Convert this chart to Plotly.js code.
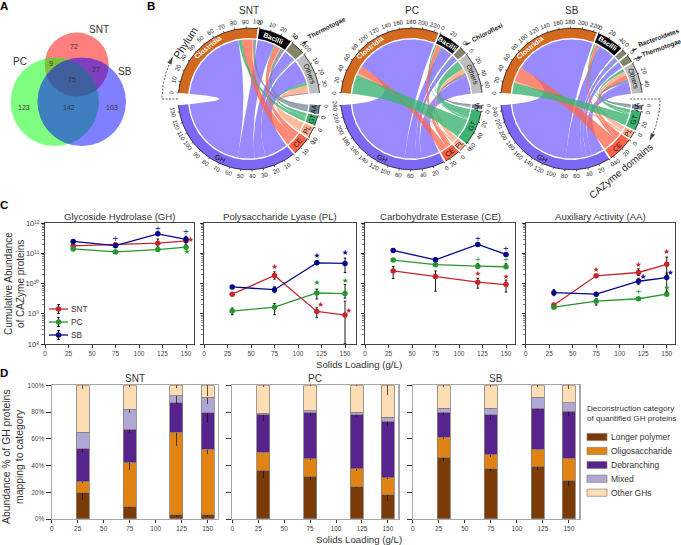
<!DOCTYPE html>
<html><head><meta charset="utf-8">
<script src="https://cdn.plot.ly/plotly-3.0.1.min.js"></script>
<style>html,body{margin:0;padding:0;background:#fff}</style></head>
<body><div id="chart" style="width:681px;height:545px"></div>
<script>
const W=681,H=545,FONT='Liberation Sans, Arial, sans-serif',INK='#333';
// ---------- Panel A: Venn counts
const vennLabels=['SNT','PC','SB'];
const vennCounts=['72','9','27','75','123','142','103'];
// ---------- Panel B: chord data (rows = phyla, columns = domains)
const domains=['GH','CE','PL','GT','AA'];
const domainsClockwise=['AA','GT','PL','CE','GH'];
const sntPhyla=['Clostridia','Bacilli','Thermotogae','Others'];
const sntFlows=[[81,11,1,4,3],[18,6,1,1,4],[12,0,0,1,0],[25,0,8,3,1]];
const sntSourceOrder=['GH','GT','CE','PL','AA'];
const pcPhyla=['Clostridia','Bacilli','Chloroflexi','Others'];
const pcFlows=[[168,16,4,40,0],[24,9,1,3,2],[11,0,0,2,0],[38,3,8,18,5]];
const pcSourceOrder=['GT','PL','CE','AA','GH'];
const sbPhyla=['Clostridia','Bacilli','Bacteroidetes','Thermotogae','Others'];
const sbFlows=[[169,30,4,23,0],[35,6,1,3,2],[9,0,0,1,0],[12,0,0,1,0],[25,9,8,6,6]];
const sbSourceOrder=['GT','PL','CE','AA','GH'];
// ---------- Panel C: log10 abundance at each solids loading
const loadings=[30,75,120,150];
const ghSNT=[11.25,11.29,11.34,11.42], ghPC=[11.15,11.05,11.13,11.21], ghSB=[11.40,11.26,11.65,11.47];
const plSNT=[9.65,10.27,9.08,8.96], plPC=[9.09,9.22,9.69,9.67], plSB=[9.89,9.80,10.69,10.67];
const ceSNT=[10.42,10.24,10.05,9.97], cePC=[10.78,10.63,10.58,10.56], ceSB=[11.10,10.79,11.30,10.97];
const aaSNT=[9.29,10.26,10.37,10.64], aaPC=[9.22,9.42,9.50,9.65], aaSB=[9.70,9.65,10.08,10.20];
// error bars, decades above / below
const ghSNTe=[[.05,.05,.14,.12],[.05,.05,.13,.12]], ghPCe=[[.04,.03,.04,.04],[.04,.03,.04,.04]], ghSBe=[[.04,.05,.04,.1],[.04,.05,.04,.1]];
const plSNTe=[[.03,.12,.12,.46],[.03,.12,.21,.95]], plPCe=[[.1,.12,.13,.3],[.12,.25,.2,.15]], plSBe=[[.04,.1,.07,.18],[.04,.1,.06,.3]];
const ceSNTe=[[.15,.18,.13,.15],[.25,.49,.2,.25]], cePCe=[[.03,.03,.08,.1],[.03,.03,.08,.06]], ceSBe=[[.03,.06,.03,.03],[.03,.06,.03,.03]];
const aaSNTe=[[.03,.03,.12,.24],[.03,.03,.1,.35]], aaPCe=[[.03,.08,.03,.03],[.03,.13,.03,.03]], aaSBe=[[.1,.05,.1,.15],[.1,.05,.1,.45]];
const cTitles=['Glycoside Hydrolase (GH)','Polysaccharide Lyase (PL)','Carbohydrate Esterase (CE)','Auxiliary Activity (AA)'];
const logTickVals=[1e8,1e9,1e10,1e11,1e12];
const logTickText=['10⁸','10⁹','10¹⁰','10¹¹','10¹²'];
// significance marks: loading, log10 position, glyph, treatment
const ghMarks=[[75,11.49,'+','SB'],[120,11.82,'+','SB'],[150,11.70,'+','SB'],[155,11.45,'★','SNT'],[151,11.04,'★','PC']];
const plMarks=[[75,10.54,'★','SNT'],[124,9.28,'★','SNT'],[154,9.08,'★','SNT'],[120,10.92,'★','SB'],[150,11.0,'★','SB'],[120,10.01,'★','PC'],[150,10.1,'★','PC']];
const ceMarks=[[120,11.49,'+','SB'],[150,11.16,'+','SB'],[120,10.78,'+','PC'],[150,10.78,'+','PC'],[120,10.32,'★','SNT'],[150,10.23,'★','SNT']];
const aaMarks=[[75,10.45,'★','SNT'],[120,10.63,'★','SNT'],[150,11.04,'★','SNT'],[125,10.23,'★','SB'],[154,10.35,'★','SB'],[120,9.71,'+','PC'],[150,9.85,'★','PC']];
// ---------- Panel D: stacked percent segments
const categories=['Longer polymer','Oligosaccharide','Debranching','Mixed','Other GHs'];
const sntSeg=[[19.5,9,3,3],[8.5,33,62,49],[24.5,25,22,27.5],[12.5,15,5,11.5],[35,18,8,9]];
const pcSeg=[[36.5,32,24,18],[13.5,13,13.5,13],[28,34.5,40.3,42],[1,1.5,2.2,3],[21,19,20,24]];
const sbSeg=[[46,37.5,39.5,29],[15,10.5,12.5,16.5],[19,30,31,35],[3,5,8,6.5],[17,17,9,13]];
const sntErr=[[5.5,1,1.5,1.5],[1,5.5,10.5,3.5],[2.5,2.5,1,7.5],[1,2.5,5,5],[3,1,2,8]];
const pcErr=[[6,3,1,4.5],[.5,1,1.5,1],[4.5,2.5,1.5,3.5],[.5,.5,.5,.5],[1,.5,.5,7]];
const sbErr=[[2.5,1.5,3,4],[1.5,1.5,.5,1],[2.5,4,1.5,3.5],[.5,.5,.5,.5],[1.5,1.5,1.5,2.5]];

const treatColor={SNT:'#c4262e',PC:'#27962f',SB:'#05058c'};
const catColor=['#7a3b08','#e08314','#57238c','#b0a8d4','#fdddb4'];
const sectorColor={Clostridia:'#d2691e',Bacilli:'#000000',Thermotogae:'#85856a',Chloroflexi:'#85856a',Bacteroidetes:'#85856a',Others:'#bebebe',
 GH:'#7b68f5',CE:'#ff6347',PL:'#ffa98a',GT:'#3cb371',AA:'#708090'};
const ribbonColor={GH:'rgba(124,106,255,.78)',CE:'rgba(255,99,71,.75)',PL:'rgba(255,160,122,.75)',GT:'rgba(60,179,113,.8)',AA:'rgba(112,128,144,.75)'};

const traces=[],ann=[],shapes=[];
const layout={width:W,height:H,margin:{l:0,r:0,t:0,b:0},showlegend:false,barmode:'stack',bargap:0,
 paper_bgcolor:'#fff',plot_bgcolor:'rgba(0,0,0,0)',font:{family:FONT,color:INK},annotations:ann,shapes:shapes};
const OV='17';
layout['xaxis'+OV]={domain:[0,1],range:[0,W],visible:false,fixedrange:true,anchor:'y'+OV};
layout['yaxis'+OV]={domain:[0,1],range:[H,0],visible:false,fixedrange:true,anchor:'x'+OV};
const ox='x'+OV,oy='y'+OV;
function txt(x,y,t,size,opt){ann.push(Object.assign({x:x,y:y,xref:ox,yref:oy,text:t,showarrow:false,
  font:{size:size,family:FONT,color:INK},xanchor:'center',yanchor:'middle',borderpad:0,borderwidth:0},opt||{}));}
function arrowHead(x0,y0,x1,y1,size){traces.push({type:'scatter',mode:'markers',x:[x0,x1],y:[y0,y1],xaxis:ox,yaxis:oy,cliponaxis:false,
  marker:{symbol:'arrow',angleref:'previous',size:[0,size],color:'#111',line:{width:0}},hoverinfo:'skip'});}
function seg(x0,y0,x1,y1){traces.push({type:'scatter',mode:'lines',x:[x0,x1],y:[y0,y1],xaxis:ox,yaxis:oy,line:{width:.7,color:'#111'},hoverinfo:'skip'});}

// ---------- A
const circles=[[76.7,64.5,32,'rgba(255,0,0,.5)'],[54.8,101.8,44.2,'rgba(0,255,0,.5)'],[81.7,101.8,44.3,'rgba(0,0,255,.5)']];
circles.forEach(c=>shapes.push({type:'circle',xref:ox,yref:oy,x0:c[0]-c[2],x1:c[0]+c[2],y0:c[1]-c[2],y1:c[1]+c[2],fillcolor:c[3],line:{width:0},layer:'below'}));
[[99,29],[20,61],[125,71]].forEach((p,i)=>txt(p[0],p[1],vennLabels[i],10));
[[73.7,46.7],[50.7,63.3],[96,69],[71.7,79],[23.7,107.7],[69,107.7],[111.7,107.7]].forEach((p,i)=>txt(p[0],p[1],vennCounts[i],7));
[[4,6,'A'],[151,6,'B'],[4,205,'C'],[4,373,'D']].forEach(p=>txt(p[0],p[1],'<b>'+p[2]+'</b>',11.5,{font:{size:11.5,family:FONT,color:'#000'}}));

// ---------- B
const R=70.8,Rin=61,Rc=59.6;
function pt(cx,cy,r,deg){const t=deg*Math.PI/180;return [cx+r*Math.sin(t),cy-r*Math.cos(t)];}
function chord(cx,cy,title,phyla,flows,srcOrder,steps){
 txt(cx,10,title,10);
 const rowSum=flows.map(r=>r.reduce((a,b)=>a+b,0));
 const colSum=domains.map((d,j)=>flows.reduce((a,r)=>a+r[j],0));
 const total=rowSum.reduce((a,b)=>a+b,0);
 const small=1.5,half=5;
 const sTop=(180-2*half-(phyla.length-1)*small)/total, sBot=(180-2*half-(domainsClockwise.length-1)*small)/total;
 const start={};let a=-90+half;
 phyla.forEach((p,i)=>{start[p]=a;a+=rowSum[i]*sTop+small;});
 a=90+half;
 domainsClockwise.forEach(d=>{start[d]=a;a+=colSum[domains.indexOf(d)]*sBot+small;});
 const tickX=[],tickY=[],sizeOf={},scaleOf={};
 phyla.forEach((p,i)=>{sizeOf[p]=rowSum[i];scaleOf[p]=sTop;});
 domains.forEach((d,j)=>{sizeOf[d]=colSum[j];scaleOf[d]=sBot;});
 // ribbons
 const srcPos={};
 phyla.forEach((p,i)=>{let pos=start[p];srcOrder.forEach(d=>{const j=domains.indexOf(d);
   srcPos[i+'|'+j]=[pos,pos+flows[i][j]*sTop];pos+=flows[i][j]*sTop;});});
 const tgtPos={};
 domains.forEach((d,j)=>{let pos=start[d];for(let i=phyla.length-1;i>=0;i--){tgtPos[i+'|'+j]=[pos,pos+flows[i][j]*sBot];pos+=flows[i][j]*sBot;}});
 ['GH','CE','PL','GT','AA'].forEach(d=>{const j=domains.indexOf(d);
  phyla.forEach((p,i)=>{if(!flows[i][j])return;
   const s=srcPos[i+'|'+j],t=tgtPos[i+'|'+j],xs=[],ys=[];
   const arc=(a0,a1)=>{const n=Math.max(2,Math.ceil(Math.abs(a1-a0)));for(let k=0;k<=n;k++){const q=pt(cx,cy,Rc,a0+(a1-a0)*k/n);xs.push(q[0]);ys.push(q[1]);}};
   const bez=(a0,a1)=>{const A=pt(cx,cy,Rc,a0),B=pt(cx,cy,Rc,a1);for(let k=1;k<30;k++){const u=k/30,v=1-u;xs.push(v*v*A[0]+2*u*v*cx+u*u*B[0]);ys.push(v*v*A[1]+2*u*v*cy+u*u*B[1]);}};
   arc(s[0],s[1]);bez(s[1],t[0]);arc(t[0],t[1]);bez(t[1],s[0]);
   traces.push({type:'scatter',mode:'lines',x:xs,y:ys,xaxis:ox,yaxis:oy,fill:'toself',fillcolor:ribbonColor[d],line:{width:0},hoverinfo:'skip'});
  });});
 // sectors
 Object.keys(start).forEach(name=>{
  const a0=start[name],a1=a0+sizeOf[name]*scaleOf[name],xs=[],ys=[],ax=[],ay=[];
  const n=Math.max(2,Math.ceil(a1-a0));
  for(let k=0;k<=n;k++){const q=pt(cx,cy,R,a0+(a1-a0)*k/n);xs.push(q[0]);ys.push(q[1]);ax.push(q[0]);ay.push(q[1]);}
  for(let k=n;k>=0;k--){const q=pt(cx,cy,Rin,a0+(a1-a0)*k/n);xs.push(q[0]);ys.push(q[1]);}
  traces.push({type:'scatter',mode:'lines',x:xs,y:ys,xaxis:ox,yaxis:oy,fill:'toself',fillcolor:sectorColor[name],line:{width:0},hoverinfo:'skip'});
  traces.push({type:'scatter',mode:'lines',x:ax,y:ay,xaxis:ox,yaxis:oy,line:{width:.7,color:'#000'},hoverinfo:'skip'});
  const step=steps[name]||10;
  for(let v=0;v<=sizeOf[name]+.01;v+=step){
   const d=a0+v*scaleOf[name],p1=pt(cx,cy,R,d),p2=pt(cx,cy,R+1.8,d),l=pt(cx,cy,R+6.5,d);
   tickX.push(p1[0],p2[0],null);tickY.push(p1[1],p2[1],null);
   const nd=((d%360)+360)%360,ang=(nd<90||nd>270)?(nd>270?nd-360:nd):nd-180;
   txt(l[0],l[1],String(v),6,{textangle:ang,font:{size:6,family:FONT,color:'#222'}});
  }
  const external=['Thermotogae','Chloroflexi','Bacteroidetes'];
  if(external.indexOf(name)<0){
   const mid=(a0+a1)/2,l=pt(cx,cy,(R+Rin)/2,mid),nd=((mid%360)+360)%360,ang=(nd<90||nd>270)?(nd>270?nd-360:nd):nd-180;
   const white=name==='Clostridia'||name==='Bacilli';
   let pos=l,angle=ang;
   if(name==='Clostridia'){pos=pt(cx,cy,(R+Rin)/2,-39);angle=-39;}
   if(name==='GH'){pos=pt(cx,cy,(R+Rin)/2,206);angle=26;}
   txt(pos[0],pos[1],white?'<b>'+name+'</b>':name,7,{textangle:angle,font:{size:7,family:FONT,color:white?'#fff':'#111'}});
  }
 });
 traces.push({type:'scatter',mode:'lines',x:tickX,y:tickY,xaxis:ox,yaxis:oy,line:{width:.6,color:'#000'},hoverinfo:'skip'});
}
const CX=[249,411.5,571.5],CY=99;
chord(CX[0],CY,'SNT',sntPhyla,sntFlows,sntSourceOrder,{});
chord(CX[1],CY,'PC',pcPhyla,pcFlows,pcSourceOrder,{Clostridia:20,Bacilli:20,Chloroflexi:20,Others:20,GH:20,CE:20,PL:20,GT:20,AA:20});
chord(CX[2],CY,'SB',sbPhyla,sbFlows,sbSourceOrder,{Clostridia:20,Bacilli:20,Bacteroidetes:20,Thermotogae:20,Others:20,GH:20,CE:20,PL:20,GT:20,AA:20});
// outside phylum names with arrows
[['Thermotogae',326.7,28,-27,300,45,307.5,41],['Chloroflexi',486.7,32,-27,465,45,470.5,42.5],
 ['Bacteroidetes',658.3,37.3,-20,633.3,50,637,48.6],['Thermotogae',661.7,48.3,-20,633.3,59.3,642,56.6]].forEach(e=>{
 txt(e[1],e[2],'<b>'+e[0]+'</b>',6.5,{textangle:e[3],font:{size:6.5,family:FONT,color:'#222'}});
 seg(e[4],e[5],e[6],e[7]);arrowHead(e[4],e[5],e[6],e[7],5);
});
// dashed direction arrows
function dashArc(cx,cy,r,a0,a1,pre){const xs=[],ys=[];pre.forEach(p=>{xs.push(p[0]);ys.push(p[1]);});
 for(let k=0;k<=20;k++){const q=pt(cx,cy,r,a0+(a1-a0)*k/20);xs.push(q[0]);ys.push(q[1]);}
 traces.push({type:'scatter',mode:'lines',x:xs,y:ys,xaxis:ox,yaxis:oy,line:{width:.7,color:'#111',dash:'2px,1.5px'},hoverinfo:'skip'});
 const e=pt(cx,cy,r,a1),f=pt(cx,cy,r,a1-(a1-a0)*.1);
 arrowHead(f[0],f[1],e[0],e[1],8);}
dashArc(CX[0],CY,87,-90,-61,[[178,99]]);
dashArc(CX[2],CY,88.5,90,118,[[630,99]]);
txt(185,43,'Phylum',10.5,{textangle:-57,font:{size:10.5,family:FONT,color:'#222'}});
txt(620,171,'CAZyme domains',10,{textangle:-40,font:{size:10,family:FONT,color:'#222'}});

// ---------- C
const cPanels=[[45,194],[204,355.7],[365,515],[525.7,675]];
const cTop=223.3,cBot=344;
const cSeries=[[ghSNT,ghPC,ghSB,ghSNTe,ghPCe,ghSBe,ghMarks],[plSNT,plPC,plSB,plSNTe,plPCe,plSBe,plMarks],
 [ceSNT,cePC,ceSB,ceSNTe,cePCe,ceSBe,ceMarks],[aaSNT,aaPC,aaSB,aaSNTe,aaPCe,aaSBe,aaMarks]];
const pow=v=>Math.pow(10,v);
cPanels.forEach((p,i)=>{const n=i+1,xa='x'+n,ya='y'+n;
 const xr=[0,(p[1]-p[0])/0.94];
 layout['xaxis'+n]={domain:[p[0]/W,p[1]/W],range:xr,anchor:ya,tickvals:[0,25,50,75,100,125,150],ticks:'outside',ticklen:3,tickwidth:.8,tickcolor:'#000',
  tickfont:{size:6.5,color:'#444'},showgrid:false,zeroline:false,showline:true,linecolor:'#444',linewidth:1.2,mirror:true,fixedrange:true};
 layout['yaxis'+n]={domain:[1-cBot/H,1-cTop/H],type:'log',range:[8,12],tickmode:'array',tickvals:logTickVals,ticktext:logTickText,anchor:xa,ticks:'outside',ticklen:3,tickwidth:.8,tickcolor:'#000',
  showticklabels:i===0,tickfont:{size:7.5,color:'#444'},showgrid:false,zeroline:false,showline:true,linecolor:'#444',linewidth:1.2,mirror:true,fixedrange:true,
  minor:{ticks:'outside',ticklen:1.8,tickcolor:'#000',tickwidth:.5,dtick:'D1',showgrid:false}};
 txt((p[0]+p[1])/2,216,cTitles[i],9.6);
 const s=cSeries[i];
 ['SNT','PC','SB'].forEach((t,k)=>{
  const v=s[k],e=s[k+3];
  traces.push({type:'scatter',mode:'lines+markers',x:loadings,y:v.map(pow),xaxis:xa,yaxis:ya,name:t,
   line:{color:treatColor[t],width:1.3},marker:{color:treatColor[t],size:5.5},cliponaxis:true,
   error_y:{type:'data',symmetric:false,array:v.map((q,m)=>pow(q+e[0][m])-pow(q)),arrayminus:v.map((q,m)=>pow(q)-pow(q-e[1][m])),color:'#000',thickness:.9,width:1.3},hoverinfo:'skip'});
 });
 const m=s[6];
 traces.push({type:'scatter',mode:'text',x:m.map(r=>r[0]),y:m.map(r=>pow(r[1])),text:m.map(r=>r[2]),xaxis:xa,yaxis:ya,cliponaxis:false,
  textposition:'middle center',textfont:{size:7.5,color:m.map(r=>treatColor[r[3]]),family:'DejaVu Sans'},hoverinfo:'skip'});
});
// C legend
['SNT','PC','SB'].forEach((t,i)=>{const y=[309,322,335][i];
 traces.push({type:'scatter',mode:'lines',x:[49,68],y:[y,y],xaxis:ox,yaxis:oy,line:{color:treatColor[t],width:1.3},hoverinfo:'skip'});
 traces.push({type:'scatter',mode:'markers',x:[58.5],y:[y],xaxis:ox,yaxis:oy,marker:{color:treatColor[t],size:5.5},
  error_y:{type:'constant',value:4.5,color:'#000',thickness:.9,width:1.3},hoverinfo:'skip'});
 txt(71,y,t,8.3,{xanchor:'left'});
});
txt(359,364,'Solids Loading (g/L)',9.7);
txt(8,284,'Cumulative Abundance',10,{textangle:-90});
txt(20,284,'of CAZyme proteins',10,{textangle:-90});

// ---------- D
const dPanels=[[51.7,218],[232.3,398.3],[412.7,579.3]];
const dTop=385.3,dBot=519;
const dNames=['SNT','PC','SB'],dData=[[sntSeg,sntErr],[pcSeg,pcErr],[sbSeg,sbErr]];
dPanels.forEach((p,i)=>{const n=i+5,xa='x'+n,ya='y'+n;
 layout['xaxis'+n]={domain:[p[0]/W,p[1]/W],range:[0,160],anchor:ya,tickvals:[0,25,50,75,100,125,150],ticks:'outside',ticklen:3,tickwidth:.8,tickcolor:'#000',
  tickfont:{size:6.5,color:'#444'},showgrid:false,zeroline:false,showline:true,linecolor:'#a8a8a8',linewidth:1.2,mirror:true,fixedrange:true};
 layout['yaxis'+n]={domain:[1-dBot/H,1-dTop/H],range:[0,100],anchor:xa,tickvals:[0,20,40,60,80,100],ticktext:['0%','20%','40%','60%','80%','100%'],ticks:'outside',ticklen:5,tickwidth:.8,tickcolor:'#000',
  showticklabels:i===0,tickfont:{size:6.5,color:'#444'},showgrid:false,zeroline:false,showline:true,linecolor:'#a8a8a8',linewidth:1.2,mirror:true,fixedrange:true};
 txt((p[0]+p[1])/2,378,dNames[i],10);
 categories.forEach((c,k)=>traces.push({type:'bar',x:loadings,y:dData[i][0][k],xaxis:xa,yaxis:ya,name:c,width:12.4,
  marker:{color:catColor[k],line:{color:'#8a8078',width:.8}},
  error_y:{type:'data',array:dData[i][1][k],color:'#111',thickness:.7,width:0},hoverinfo:'skip'}));
});
txt(359,539,'Solids Loading (g/L)',9.7);
txt(6,457,'Abundance % of GH proteins',10.4,{textangle:-90});
txt(19,457,'mapping to category',10.4,{textangle:-90});
txt(587,408.7,'Deconstruction category',8.1,{xanchor:'left'});
txt(587,418.6,'of quantified GH proteins',8.1,{xanchor:'left'});
categories.forEach((c,k)=>{const y=[437,451,465,478.7,492.7][k];
 shapes.push({type:'rect',xref:ox,yref:oy,x0:587,x1:607,y0:y-3.6,y1:y+3.6,fillcolor:catColor[k],line:{color:'#8a8078',width:.7}});
 txt(611,y,c,8.5,{xanchor:'left'});
});
Plotly.newPlot('chart',traces,layout,{staticPlot:true,displayModeBar:false});
</script></body></html>
